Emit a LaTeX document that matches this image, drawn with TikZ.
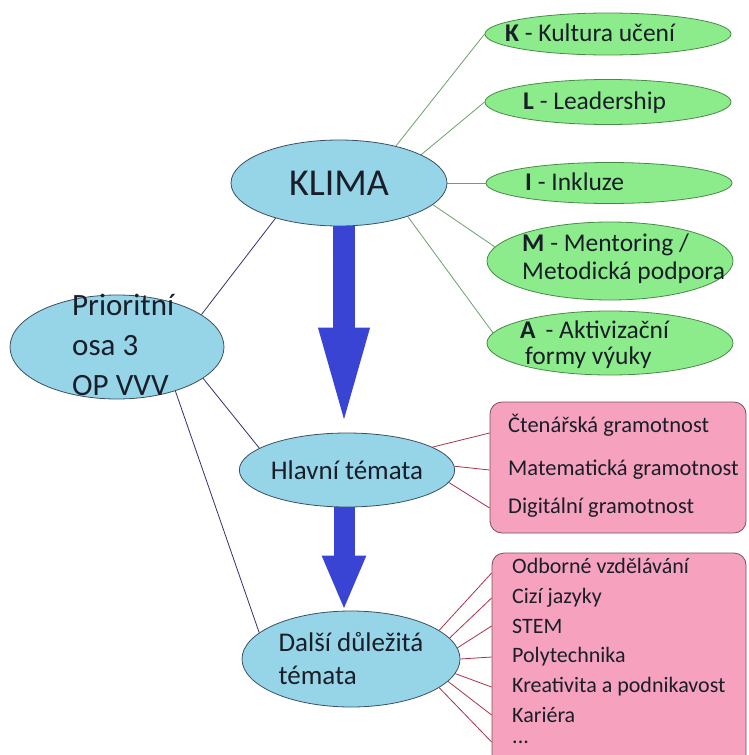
\documentclass[tikz,border=0pt]{standalone}
\usepackage{fontspec}
\setmainfont{Carlito}
\usetikzlibrary{arrows.meta,shapes.geometric}
\pgfdeclarelayer{bottom}
\pgfdeclarelayer{background}
\pgfsetlayers{bottom,background,main}
\definecolor{blfill}{RGB}{150,212,232}
\definecolor{bldraw}{RGB}{60,80,100}
\definecolor{grfill}{RGB}{140,236,140}
\definecolor{grdraw}{RGB}{70,140,70}
\definecolor{pkfill}{RGB}{246,162,190}
\definecolor{pkdraw}{RGB}{120,80,90}
\definecolor{arrowblue}{RGB}{58,68,212}
\definecolor{grline}{RGB}{110,160,110}
\definecolor{blline}{RGB}{50,50,110}
\definecolor{pkline}{RGB}{170,50,70}
\definecolor{txt}{RGB}{25,30,40}
\begin{document}
\begin{tikzpicture}[x=1pt,y=-1pt,
  blueell/.style={ellipse, draw=bldraw, fill=blfill, line width=0.8pt, inner sep=0pt, text=txt},
  greenell/.style={ellipse, draw=grdraw, fill=grfill, line width=0.8pt, inner sep=0pt, minimum width=246pt},
  pinkbox/.style={rectangle, draw=pkdraw, fill=pkfill, rounded corners=12pt, line width=0.8pt, inner sep=0pt},
  lbl/.style={text=txt, inner sep=0pt, anchor=west},
  grtxt/.style={lbl, font=\fontsize{25.5}{28}\selectfont, align=left},
  pktxt/.style={lbl, font=\fontsize{22.5}{27}\selectfont},
  pktxtb/.style={lbl, font=\fontsize{22}{25}\selectfont},
  grconn/.style={draw=grline, line width=0.8pt},
  blconn/.style={draw=blline, line width=0.8pt},
  pkconn/.style={draw=pkline, line width=0.8pt},
  bigarrow/.style={draw=arrowblue, line width=22pt}
]
\useasboundingbox (0,0) rectangle (748,755);
\begin{pgfonlayer}{bottom}
\fill[white] (0,0) rectangle (748,755);
\end{pgfonlayer}

% blue ellipses
\node[blueell, minimum width=214pt, minimum height=104pt] (prio) at (117,347) {};
\node[lbl, font=\fontsize{31}{40}\selectfont, align=left] (prioT) at (72,345) {Prioritní\\osa 3\\OP VVV};
\node[blueell, minimum width=216pt, minimum height=86pt, font=\fontsize{38}{40}\selectfont] (klima) at (339,183) {KLIMA};
\node[blueell, minimum width=212pt, minimum height=74pt, font=\fontsize{27}{30}\selectfont] (hlavni) at (347,470) {Hlavní témata};
\node[blueell, minimum width=218pt, minimum height=96pt, font=\fontsize{27}{33}\selectfont, align=left] (dalsi) at (351,659) {Další důležitá\\témata};

% green ellipses
\node[greenell, minimum height=42pt] (gk) at (608,34) {};
\node[greenell, minimum height=45pt] (gl) at (608,102) {};
\node[greenell, minimum height=41pt] (gi) at (609,183) {};
\node[greenell, minimum height=78pt] (gm) at (610,261) {};
\node[greenell, minimum height=64pt] (ga) at (610,343) {};
\node[grtxt] (tk) at (505,33) {\textbf{K} - Kultura učení};
\node[grtxt] (tl) at (523,103) {\textbf{L} - Leadership};
\node[grtxt] (ti) at (525,182) {\textbf{I} - Inkluze};
\node[grtxt] (tm) at (522,259) {\textbf{M} - Mentoring /\\Metodická podpora};
\node[grtxt, font=\fontsize{25.5}{26}\selectfont] (ta) at (520,345) {\textbf{A}\, - Aktivizační\\\hspace*{5pt}formy výuky};

% pink boxes
\node[pinkbox, minimum width=256pt, minimum height=131pt] (b1) at (618,467.5) {};
\node[pktxt] (p1) at (508,425) {Čtenářská gramotnost};
\node[pktxt] (p2) at (508,470) {Matematická gramotnost};
\node[pktxt] (p3) at (508,508) {Digitální gramotnost};
\node[pinkbox, minimum width=254pt, minimum height=222pt] (b2) at (619,664) {};
\node[pktxtb] (q1) at (512,566) {Odborné vzdělávání};
\node[pktxtb] (q2) at (512,598) {Cizí jazyky};
\node[pktxtb] (q3) at (512,626) {STEM};
\node[pktxtb] (q4) at (512,657) {Polytechnika};
\node[pktxtb] (q5) at (512,687) {Kreativita a podnikavost};
\node[pktxtb] (q6) at (512,715) {Kariéra};
\node[pktxtb] (q7) at (512,742) {...};

\begin{pgfonlayer}{background}
  % from Prioritni
  \draw[blconn] (prio.21) -- (klima.209);
  \draw[blconn] (prio.-20) -- (hlavni.166);
  \draw[blconn] (prio.-37) -- (dalsi.164);
  % from KLIMA
  \draw[grconn] (klima.33) -- (gk.west);
  \draw[grconn] (klima.19) -- (gl.west);
  \draw[grconn] (klima.0) -- (gi.west);
  \draw[grconn] (klima.-13) -- (gm.173);
  \draw[grconn] (klima.-26) -- (ga.175);
  % from Hlavni
  \draw[pkconn] (hlavni.15) -- ([yshift=-8pt]b1.west |- p1);
  \draw[pkconn] (hlavni.2) -- (b1.west |- p2);
  \draw[pkconn] (hlavni.-7) -- (b1.west |- p3);
  % from Dalsi
  \draw[pkconn] (dalsi.18) -- ([yshift=-7pt]b2.west |- q1);
  \draw[pkconn] (dalsi.12) -- (b2.west |- q2);
  \draw[pkconn] (dalsi.6) -- (b2.west |- q3);
  \draw[pkconn] (dalsi.0) -- (b2.west |- q4);
  \draw[pkconn] (dalsi.-8) -- (b2.west |- q5);
  \draw[pkconn] (dalsi.-13) -- (b2.west |- q6);
  \draw[pkconn] (dalsi.-18) -- (b2.west |- q7);
\end{pgfonlayer}

% big arrows
\draw[bigarrow, -{Triangle[width=44pt,length=105pt]}] ([xshift=5pt]klima.south) -- ([xshift=-3pt]hlavni.north);
\draw[bigarrow, line width=21pt, -{Triangle[width=40pt,length=55pt]}] ([xshift=-3pt]hlavni.south) -- ([xshift=-7pt]dalsi.north);
\end{tikzpicture}
\end{document}
